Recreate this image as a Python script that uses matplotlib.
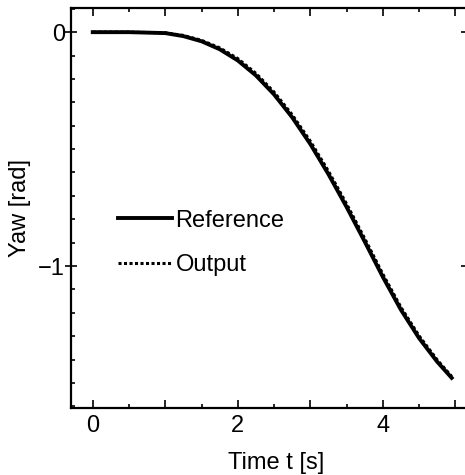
import matplotlib.pyplot as plt
from matplotlib.ticker import MultipleLocator, FixedLocator

plt.rcParams["font.family"] = ["Liberation Sans", "DejaVu Sans"]

# ---- data ----
t = [0.0, 0.5, 1.0, 1.25, 1.5, 1.75, 2.0, 2.25, 2.5, 2.75, 3.0,
     3.25, 3.5, 3.75, 4.0, 4.25, 4.5, 4.75, 4.95]
yaw_ref = [0.0, 0.0, -0.004, -0.017, -0.039, -0.073, -0.121, -0.185, -0.266,
           -0.364, -0.478, -0.607, -0.747, -0.895, -1.046, -1.187, -1.308,
           -1.409, -1.478]
yaw_out = [0.0, 0.0, -0.003, -0.014, -0.035, -0.067, -0.113, -0.176, -0.256,
           -0.353, -0.466, -0.594, -0.734, -0.882, -1.034, -1.176, -1.298,
           -1.401, -1.472]
x_labels = ["0", "", "2", "", "4", ""]
y_ticks = [0, -1]
y_labels = ["0", "\u22121"]

fig = plt.figure(figsize=(4.65, 4.75), dpi=100)
ax = fig.add_axes([0.1527, 0.141, 0.852, 0.843])

ax.plot(t, yaw_ref, color="black", linewidth=2.8, label="Reference")
ax.plot(t, yaw_out, color="black", linewidth=2.2, linestyle=(0, (1, 0.8)), label="Output")

ax.set_xlim(-0.3, 5.164)
ax.set_ylim(-1.607, 0.105)

ax.set_xticks([0, 1, 2, 3, 4, 5], x_labels)
ax.xaxis.set_minor_locator(MultipleLocator(0.5))
ax.yaxis.set_major_locator(FixedLocator(y_ticks))
ax.set_yticklabels(y_labels)
ax.yaxis.set_minor_locator(MultipleLocator(0.1))

ax.tick_params(which="both", direction="in", top=True, right=True,
               labelsize=17, width=1.2)
ax.tick_params(which="major", length=6, pad=5)
ax.tick_params(axis="y", which="major", direction="inout", length=8, pad=0.5)
ax.tick_params(which="minor", length=3)
ax.tick_params(axis="y", which="minor", right=False)
for s in ax.spines.values():
    s.set_linewidth(1.6)

ax.set_xlabel("Time t [s]", fontsize=17, labelpad=11, x=0.518)
ax.set_ylabel("Yaw [rad]", fontsize=17, labelpad=5)

ax.legend(loc="upper left", bbox_to_anchor=(0.07, 0.5425), frameon=False,
          fontsize=17, handlelength=2.3, handletextpad=0.15, labelspacing=0.96,
          borderpad=0.3)

fig.savefig("out.png", dpi=100)
